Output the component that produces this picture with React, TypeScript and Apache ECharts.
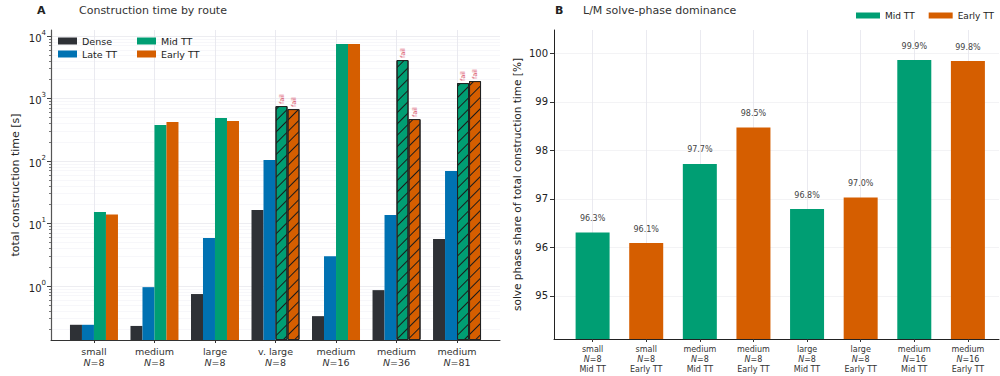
import React, { useEffect, useRef } from "react";
import * as echarts from "echarts";

// ---- Panel A data ----
const catNames = ["small", "medium", "large", "v. large", "medium", "medium", "medium"];
const catN = [8, 8, 8, 8, 16, 36, 81];
const dense = [0.24, 0.23, 0.745, 16.4, 0.33, 0.86, 5.65];
const lateTT = [0.24, 0.96, 5.86, 104, 3.0, 13.7, 69];
const midTT = [15.3, 377, 488, 759, 7450, 4130, 1770];
const earlyTT = [14, 420, 436, 679, 7450, 470, 1905];
const midFail = [false, false, false, true, false, true, true];
const earlyFail = [false, false, false, true, false, true, true];
const logMajorTicks = [1, 10, 100, 1000, 10000];
const logMinorTicks = [
  0.2, 0.3, 0.4, 0.5, 0.6, 0.7, 0.8, 0.9,
  2, 3, 4, 5, 6, 7, 8, 9,
  20, 30, 40, 50, 60, 70, 80, 90,
  200, 300, 400, 500, 600, 700, 800, 900,
  2000, 3000, 4000, 5000, 6000, 7000, 8000, 9000,
];

// ---- Panel B data ----
const bNames = ["small", "small", "medium", "medium", "large", "large", "medium", "medium"];
const bN = [8, 8, 8, 8, 8, 8, 16, 16];
const bRoute = ["Mid TT", "Early TT", "Mid TT", "Early TT", "Mid TT", "Early TT", "Mid TT", "Early TT"];
const bShare = [96.31, 96.09, 97.72, 98.47, 96.79, 97.03, 99.86, 99.84];
const bTicks = [95, 96, 97, 98, 99, 100];

const C_DENSE = "#2e3136";
const C_LATE = "#0072b2";
const C_MID = "#009e73";
const C_EARLY = "#d55e00";
const FONT = "DejaVu Sans";

const hatch = {
  symbol: "rect",
  symbolSize: 1,
  dashArrayX: [1, 0],
  dashArrayY: [1, 7],
  rotation: -Math.PI / 4,
  color: "#1a1a1a",
};

function failItems(vals: number[], fails: boolean[]) {
  return vals.map((v, i) =>
    fails[i]
      ? {
          value: [i, v],
          itemStyle: { borderColor: "#222", borderWidth: 1, decal: hatch },
          label: {
            show: true,
            position: "top",
            distance: 2,
            rotate: 90,
            align: "left",
            verticalAlign: "middle",
            formatter: "fail",
            fontSize: 6.5,
            color: "#d9506a",
            fontFamily: FONT,
          },
        }
      : { value: [i, v] }
  );
}

export default function App() {
  const ref = useRef<HTMLDivElement>(null);
  useEffect(() => {
    document.body.style.margin = "0";
    const chart = echarts.init(ref.current!, null, { renderer: "svg" });
    const gridLine = { show: true, lineStyle: { color: "#e4e4ec", width: 0.8 } };
    const option: any = {
      animation: false,
      textStyle: { fontFamily: FONT },
      title: [
        { text: "A", left: 37, top: 5, padding: 0, textStyle: { fontWeight: "bold", fontSize: 11, color: "#222", fontFamily: FONT } },
        { text: "Construction time by route", left: 79, top: 5, padding: 0, textStyle: { fontWeight: "normal", fontSize: 11, color: "#333", fontFamily: FONT } },
        { text: "B", left: 555, top: 5, padding: 0, textStyle: { fontWeight: "bold", fontSize: 11, color: "#222", fontFamily: FONT } },
        { text: "L/M solve-phase dominance", left: 583, top: 5, padding: 0, textStyle: { fontWeight: "normal", fontSize: 11, color: "#333", fontFamily: FONT } },
      ],
      legend: [
        {
          data: ["Dense", "Late TT"],
          orient: "vertical",
          left: 58,
          top: 36,
          padding: 0,
          itemWidth: 19,
          itemHeight: 7,
          itemGap: 3,
          icon: "rect",
          selectedMode: false,
          textStyle: { fontSize: 9.5, color: "#222", fontFamily: FONT },
        },
        {
          data: ["Mid TT", "Early TT"],
          orient: "vertical",
          left: 137,
          top: 36,
          padding: 0,
          itemWidth: 19,
          itemHeight: 7,
          itemGap: 3,
          icon: "rect",
          selectedMode: false,
          textStyle: { fontSize: 9.5, color: "#222", fontFamily: FONT },
        },
        {
          data: ["Mid TT", "Early TT"],
          orient: "horizontal",
          left: 856,
          top: 11,
          width: 200,
          padding: 0,
          itemWidth: 24,
          itemHeight: 6,
          itemGap: 14,
          icon: "rect",
          selectedMode: false,
          textStyle: { fontSize: 9, color: "#222", fontFamily: FONT },
        },
      ],
      grid: [
        { left: 51, right: 500, top: 30, bottom: 36 },
        { left: 554, right: 1, top: 30, bottom: 37 },
      ],
      xAxis: [
        {
          type: "value",
          gridIndex: 0,
          min: -0.71,
          max: 6.71,
          axisLine: { show: true, onZero: false, lineStyle: { color: "#333", width: 1 } },
          axisTick: { show: true, customValues: [0, 1, 2, 3, 4, 5, 6], length: 3, lineStyle: { color: "#333" } },
          axisLabel: {
            customValues: [0, 1, 2, 3, 4, 5, 6],
            margin: 6,
            formatter: (v: number) => {
              const i = Math.round(v);
              return `{t|${catNames[i]}}\n{i|N}{t|=${catN[i]}}`;
            },
            rich: {
              t: { fontSize: 9.5, color: "#333", lineHeight: 11, fontFamily: FONT },
              i: { fontSize: 9.5, color: "#333", lineHeight: 11, fontStyle: "italic", fontFamily: FONT },
            },
          },
          splitLine: gridLine,
        },
        {
          type: "value",
          gridIndex: 1,
          min: -0.72,
          max: 7.58,
          axisLine: { show: true, onZero: false, lineStyle: { color: "#222", width: 1 } },
          axisTick: { show: true, customValues: [0, 1, 2, 3, 4, 5, 6, 7], length: 3, lineStyle: { color: "#333" } },
          axisLabel: {
            customValues: [0, 1, 2, 3, 4, 5, 6, 7],
            margin: 5,
            formatter: (v: number) => {
              const i = Math.round(v);
              return `{t|${bNames[i]}}\n{i|N}{t|=${bN[i]}}\n{t|${bRoute[i]}}`;
            },
            rich: {
              t: { fontSize: 8, color: "#333", lineHeight: 10, fontFamily: FONT },
              i: { fontSize: 8, color: "#333", lineHeight: 10, fontStyle: "italic", fontFamily: FONT },
            },
          },
          splitLine: gridLine,
        },
      ],
      yAxis: [
        {
          type: "log",
          gridIndex: 0,
          logBase: 10,
          min: 0.137,
          max: 12500,
          startValue: 0.137,
          name: "total construction time [s]",
          nameLocation: "middle",
          nameGap: 30,
          nameTextStyle: { fontSize: 11, color: "#222", fontFamily: FONT },
          axisLine: { show: true, onZero: false, lineStyle: { color: "#555", width: 1.2 } },
          axisTick: { show: true, customValues: logMajorTicks, length: 4, lineStyle: { color: "#444" } },
          axisLabel: {
            customValues: logMajorTicks,
            margin: 5,
            formatter: (v: number) => {
              const e = Math.round(Math.log10(v));
              return `{b|10}{s|${e}}`;
            },
            rich: {
              b: { fontSize: 10, color: "#222", lineHeight: 14, verticalAlign: "bottom", fontFamily: FONT },
              s: { fontSize: 7, color: "#222", lineHeight: 14, verticalAlign: "top", fontFamily: FONT },
            },
          },
          splitLine: { show: true, lineStyle: { color: "#e8e8ee", width: 0.8 } },
        },
        {
          type: "log",
          gridIndex: 0,
          logBase: 10,
          min: 0.137,
          max: 12500,
          position: "left",
          axisLine: { show: false, onZero: false },
          axisLabel: { show: false },
          axisTick: { show: true, customValues: logMinorTicks, length: 2, lineStyle: { color: "#555", width: 0.8 } },
          splitLine: { show: true, lineStyle: { color: "#f2f2f6", width: 0.6 } },
        },
        {
          type: "value",
          gridIndex: 1,
          min: 94.114,
          max: 100.48,
          name: "solve phase share of total construction time [%]",
          nameLocation: "middle",
          nameGap: 32,
          nameTextStyle: { fontSize: 10.5, color: "#222", fontFamily: FONT },
          axisLine: { show: true, onZero: false, lineStyle: { color: "#222", width: 1 } },
          axisTick: { show: true, customValues: bTicks, length: 4, lineStyle: { color: "#333" } },
          axisLabel: { customValues: bTicks, margin: 6, fontSize: 10, color: "#222", fontFamily: FONT },
          splitLine: { show: true, lineStyle: { color: "#f0f0f3", width: 0.8 } },
        },
      ],
      series: [
        {
          name: "Dense",
          type: "bar",
          xAxisIndex: 0,
          yAxisIndex: 0,
          barWidth: 12,
          barGap: "0%",
          itemStyle: { color: C_DENSE },
          data: dense.map((v, i) => [i, v]),
        },
        {
          name: "Late TT",
          type: "bar",
          xAxisIndex: 0,
          yAxisIndex: 0,
          barWidth: 12,
          barGap: "0%",
          itemStyle: { color: C_LATE },
          data: lateTT.map((v, i) => [i, v]),
        },
        {
          name: "Mid TT",
          type: "bar",
          xAxisIndex: 0,
          yAxisIndex: 0,
          barWidth: 12,
          barGap: "0%",
          itemStyle: { color: C_MID },
          data: failItems(midTT, midFail),
        },
        {
          name: "Early TT",
          type: "bar",
          xAxisIndex: 0,
          yAxisIndex: 0,
          barWidth: 12,
          barGap: "0%",
          itemStyle: { color: C_EARLY },
          data: failItems(earlyTT, earlyFail),
        },
        {
          name: "Mid TT",
          type: "bar",
          xAxisIndex: 1,
          yAxisIndex: 2,
          barWidth: 34,
          barGap: "-100%",
          itemStyle: { color: C_MID },
          label: {
            show: true,
            position: "top",
            distance: 10,
            formatter: (p: any) => `${p.value[1].toFixed(1)}%`,
            fontSize: 8,
            color: "#444",
            fontFamily: FONT,
          },
          data: bShare.map((v, i) => [i, v]).filter((_, i) => bRoute[i] === "Mid TT"),
        },
        {
          name: "Early TT",
          type: "bar",
          xAxisIndex: 1,
          yAxisIndex: 2,
          barWidth: 34,
          barGap: "-100%",
          itemStyle: { color: C_EARLY },
          label: {
            show: true,
            position: "top",
            distance: 10,
            formatter: (p: any) => `${p.value[1].toFixed(1)}%`,
            fontSize: 8,
            color: "#444",
            fontFamily: FONT,
          },
          data: bShare.map((v, i) => [i, v]).filter((_, i) => bRoute[i] === "Early TT"),
        },
      ],
    };
    chart.setOption(option);
    return () => chart.dispose();
  }, []);
  return <div ref={ref} style={{ width: 1000, height: 376 }} />;
}
